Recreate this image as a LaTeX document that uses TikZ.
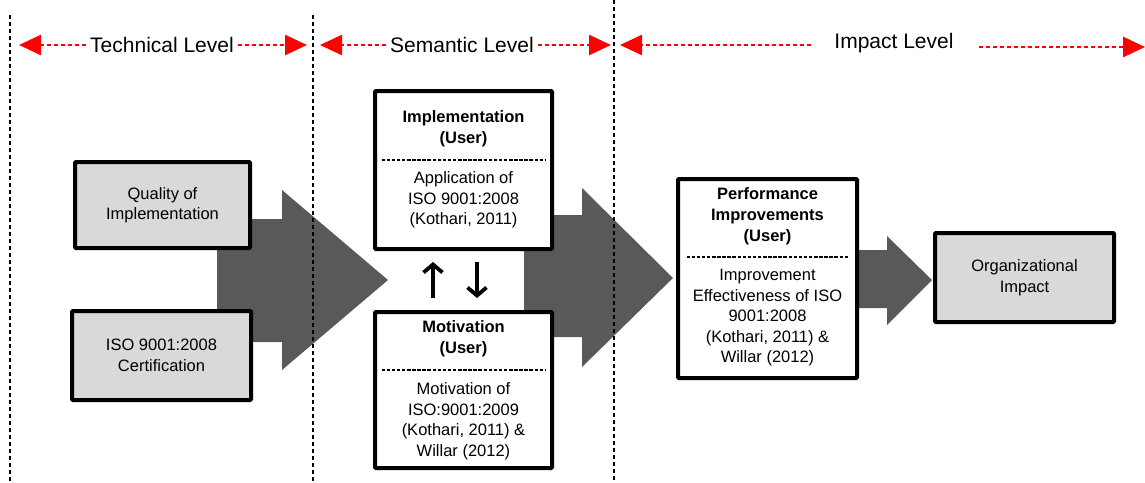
\documentclass[tikz,border=0pt]{standalone}
\usepackage{fontspec}
\setmainfont{Liberation Sans}
\usetikzlibrary{arrows.meta}
\definecolor{boxgray}{HTML}{D9D9D9}
\definecolor{arrgray}{HTML}{595959}
\tikzset{
  box/.style={draw=black, line width=4pt, rounded corners=1pt, inner sep=0pt},
  graybox/.style={box, fill=boxgray, align=center, font=\fontsize{16.5}{20.5}\selectfont},
  whitebox/.style={box, fill=white},
  txt/.style={font=\fontsize{16.5}{20.5}\selectfont, align=center, inner sep=0pt},
  txtb/.style={font=\fontsize{16.5}{21}\selectfont\bfseries, align=center, inner sep=0pt},
  level/.style={font=\fontsize{21}{24}\selectfont, inner sep=4pt},
  redarr/.style={red, line width=2.5pt, dash pattern=on 4pt off 3pt, -{Triangle[length=22pt,width=20pt]}},
  sepline/.style={black, line width=2pt, dash pattern=on 4pt off 3pt},
  thindash/.style={black, line width=1.1pt, dash pattern=on 3.5pt off 1.6pt},
  bigarrow/.style={fill=arrgray},
  updown/.style={black, line width=3.8pt, -{Straight Barb[length=8pt,width=19pt]}}
}
\begin{document}
\begin{tikzpicture}[x=1pt,y=-1pt]
\useasboundingbox (0,0) rectangle (1145,482);
% big arrows
\path[bigarrow] (217,219) -- (282,219) -- (282,190) -- (388,280) -- (282,370) -- (282,342) -- (217,342) -- cycle;
\path[bigarrow] (524,215) -- (582,215) -- (582,188) -- (673,278) -- (582,367) -- (582,337) -- (524,337) -- cycle;
\path[bigarrow] (859,250) -- (887,250) -- (887,236) -- (932,280) -- (887,325) -- (887,308) -- (859,308) -- cycle;
% vertical separators
\coordinate (s1t) at (10,15); \coordinate (s1b) at (10,482);
\coordinate (s2t) at (313,15); \coordinate (s2b) at (313,482);
\coordinate (s3t) at (614,0); \coordinate (s3b) at (614,482);
\draw[sepline] (s1t) -- (s1b);
\draw[sepline] (s2t) -- (s2b);
\draw[sepline] (s3t) -- (s3b);
% level labels
\node[level] (tech) at (162,45) {Technical Level};
\node[level] (sem) at (462,45) {Semantic Level};
\node[level] (imp) at (894,43) {Impact Level};
\coordinate (t1) at (19,45); \coordinate (t2) at (307,45);
\coordinate (m1) at (320,45); \coordinate (m2) at (611,45);
\coordinate (i1s) at (811,45); \coordinate (i1) at (620,45);
\coordinate (i2s) at (979,47); \coordinate (i2) at (1145,47);
\draw[redarr] (tech.west) -- (t1);
\draw[redarr] (tech.east) -- (t2);
\draw[redarr] (sem.west) -- (m1);
\draw[redarr] (sem.east) -- (m2);
\draw[redarr] (i1s) -- (i1);
\draw[redarr] (i2s) -- (i2);
% boxes
\node[graybox, minimum width=175pt, minimum height=86pt] (qual) at (162.5,205) {Quality of\\Implementation};
\node[graybox, minimum width=179pt, minimum height=89pt] (cert) at (161.5,355.5) {ISO 9001:2008\\Certification};
\node[whitebox, minimum width=177pt, minimum height=158pt] (impl) at (463.5,170) {};
\node[whitebox, minimum width=177pt, minimum height=156pt] (motiv) at (463.5,390) {};
\node[whitebox, minimum width=179pt, minimum height=199pt] (perf) at (767.5,278.5) {};
\node[graybox, minimum width=179pt, minimum height=89pt] (org) at (1024.5,277.5) {Organizational\\Impact};
% box texts
\node[txtb] (implh) at (463.5,129) {Implementation\\(User)};
\draw[thindash] ([xshift=-82pt]impl.center |- 0,160) -- ([xshift=82pt]impl.center |- 0,160);
\node[txt] (implb) at (463.5,200) {Application of\\ISO 9001:2008\\(Kothari, 2011)};
\node[txtb] (motivh) at (463.5,338.5) {Motivation\\(User)};
\draw[thindash] ([xshift=-82pt]motiv.center |- 0,370) -- ([xshift=82pt]motiv.center |- 0,370);
\node[txt] (motivb) at (463.5,421) {Motivation of\\ISO:9001:2009\\(Kothari, 2011) \&\\Willar (2012)};
\node[txtb] (perfh) at (767.5,216.5) {Performance\\Improvements\\(User)};
\draw[thindash] ([xshift=-81pt]perf.center |- 0,257) -- ([xshift=81pt]perf.center |- 0,257);
\node[txt] (perfb) at (767.5,318) {Improvement\\Effectiveness of ISO\\9001:2008\\(Kothari, 2011) \&\\Willar (2012)};
% up/down arrows
\coordinate (u1) at (433,298); \coordinate (u2) at (433,262);
\coordinate (d1) at (477,262); \coordinate (d2) at (477,298);
\draw[updown] (u1) -- (u2);
\draw[updown] (d1) -- (d2);
\end{tikzpicture}
\end{document}
